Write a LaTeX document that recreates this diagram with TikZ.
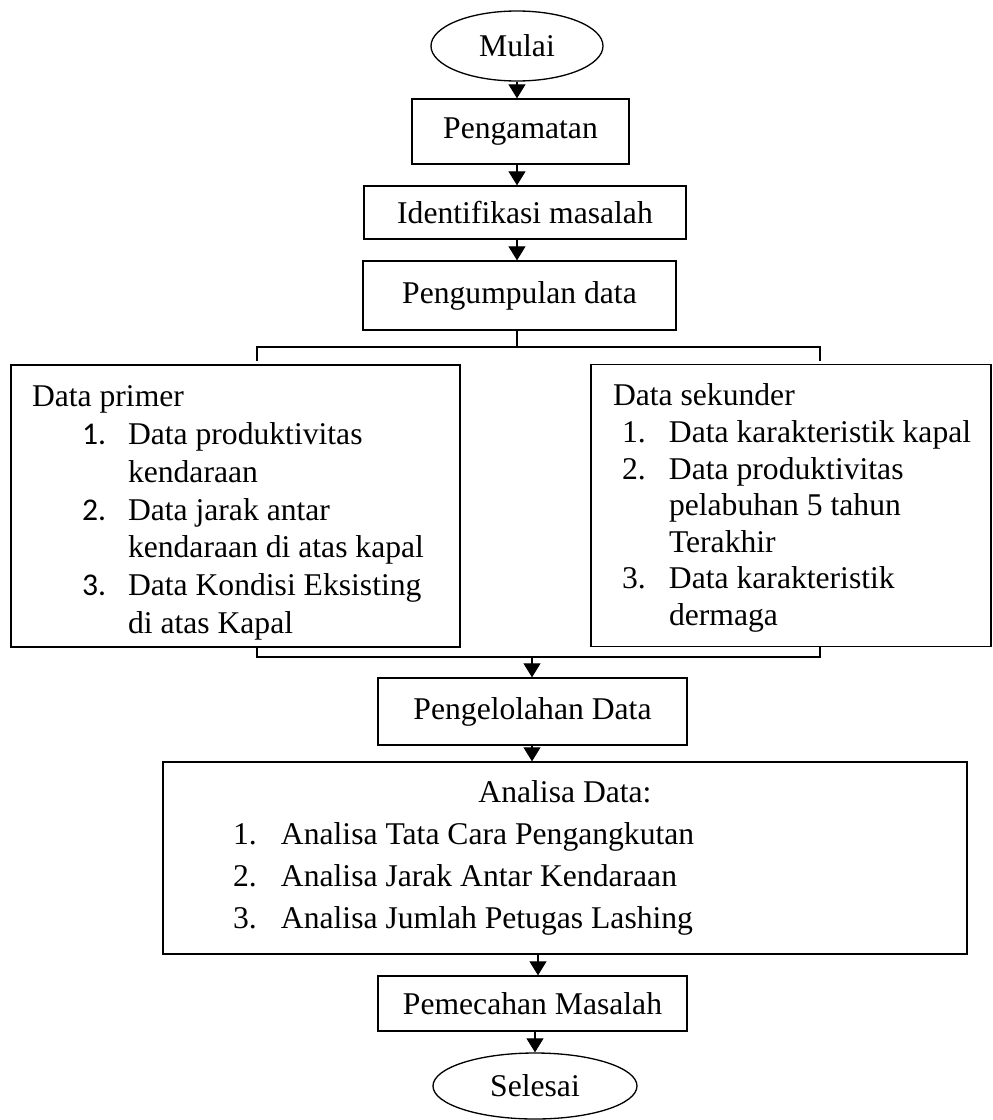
\documentclass[tikz,border=0pt]{standalone}
\usepackage{fontspec}
\setmainfont{Liberation Serif}
\newfontfamily\calibri{Carlito}
\usepackage{tikz}
\usetikzlibrary{positioning,shapes.geometric,arrows.meta,calc}

\begin{document}
\begin{tikzpicture}[
    box/.style={rectangle, draw, line width=0.75pt, inner sep=0pt, align=center, font=\fontsize{18}{21.6}\selectfont},
    terminal/.style={ellipse, draw, line width=0.75pt, inner sep=0pt, font=\fontsize{18}{21.6}\selectfont},
    listbox/.style={rectangle, draw, line width=0.75pt, inner xsep=0.2cm, inner ysep=0pt, align=flush left},
    line/.style={line width=0.6pt},
    arr/.style={line width=0.6pt, -{Triangle[length=0.28cm, width=0.34cm]}}
]
\useasboundingbox (0,0) rectangle (19.86,-22.4);

% Start and first steps
\node[terminal, minimum width=3.44cm, minimum height=1.4cm] (mulai) at (10.34, -0.92) {Mulai};
\node[box, minimum width=4.34cm, minimum height=1.3cm] (pengamatan) at (10.41, -2.63) {Pengamatan};
\node[box, minimum width=6.44cm, minimum height=1.06cm] (identifikasi) at (10.5, -4.25) {Identifikasi masalah};
\node[box, minimum width=6.26cm, minimum height=1.38cm] (pengumpulan) at (10.39, -5.91) {Pengumpulan data};

% Data sources - two boxes side by side
\node[listbox, minimum width=8.98cm, minimum height=5.64cm, text width=8.58cm, font=\fontsize{18}{21.5}\selectfont] (primer) at (4.71, -10.12) {%
    \rule{0pt}{0.7cm}\hspace*{0.22cm}Data primer\\
    \hspace*{1.22cm}\makebox[0.92cm][l]{\calibri 1.}Data produktivitas\\
    \hspace*{2.14cm}kendaraan\\
    \hspace*{1.22cm}\makebox[0.92cm][l]{\calibri 2.}Data jarak antar\\
    \hspace*{2.14cm}kendaraan di atas kapal\\
    \hspace*{1.22cm}\makebox[0.92cm][l]{\calibri 3.}Data Kondisi Eksisting\\
    \hspace*{2.14cm}di atas Kapal};
\node[listbox, minimum width=8.0cm, minimum height=5.64cm, text width=7.6cm, font=\fontsize{18}{20.8}\selectfont] (sekunder) at (15.82, -10.11) {%
    \rule{0pt}{0.54cm}\hspace*{0.24cm}Data sekunder\\
    \hspace*{0.42cm}\makebox[0.94cm][l]{1.}Data karakteristik kapal\\
    \hspace*{0.42cm}\makebox[0.94cm][l]{2.}Data produktivitas\\
    \hspace*{1.36cm}pelabuhan 5 tahun\\
    \hspace*{1.36cm}Terakhir\\
    \hspace*{0.42cm}\makebox[0.94cm][l]{3.}Data karakteristik\\
    \hspace*{1.36cm}dermaga};

% Processing and analysis
\node[box, minimum width=6.18cm, minimum height=1.34cm] (pengelolahan) at (10.65, -14.23) {Pengelolahan Data};
\node[listbox, minimum width=16.08cm, minimum height=3.84cm, text width=15.68cm, font=\fontsize{18}{23.9}\selectfont] (analisa) at (11.3, -17.16) {%
    \makebox[\linewidth]{Analisa Data:}\\
    \hspace*{1.2cm}\makebox[0.96cm][l]{1.}Analisa Tata Cara Pengangkutan\\
    \hspace*{1.2cm}\makebox[0.96cm][l]{2.}Analisa Jarak Antar Kendaraan\\
    \hspace*{1.2cm}\makebox[0.96cm][l]{3.}Analisa Jumlah Petugas Lashing};
\node[box, minimum width=6.18cm, minimum height=1.1cm] (pemecahan) at (10.65, -20.07) {Pemecahan Masalah};
\node[terminal, minimum width=4.08cm, minimum height=1.32cm] (selesai) at (10.7, -21.72) {Selesai};

% Split and merge points
\coordinate (split) at (10.34, -6.94);
\coordinate (tl) at (5.14, -6.94);
\coordinate (tr) at (16.4, -6.94);
\coordinate (tld) at (5.14, -7.22);
\coordinate (trd) at (16.4, -7.22);
\coordinate (bl) at (5.14, -13.14);
\coordinate (br) at (16.4, -13.14);
\coordinate (merge) at (10.64, -13.14);

% Connections
\draw[arr] (mulai.south) -- (mulai.south |- pengamatan.north);
\draw[arr] (pengamatan.south -| mulai.south) -- (identifikasi.north -| mulai.south);
\draw[arr] (identifikasi.south -| mulai.south) -- (pengumpulan.north -| mulai.south);
\draw[line] (pengumpulan.south -| split) -- (split);
\draw[line] (tld) -- (tl) -- (tr) -- (trd);
\draw[line] (primer.south -| bl) -- (bl) -- (br) -- (sekunder.south -| br);
\draw[arr] (merge) -- (merge |- pengelolahan.north);
\draw[arr] (pengelolahan.south -| merge) -- (analisa.north -| merge);
\draw[arr] ([xshift=0.11cm]analisa.south -| pemecahan.north) -- ([xshift=0.11cm]pemecahan.north);
\draw[arr] (pemecahan.south -| selesai.north) -- (selesai.north);

\end{tikzpicture}
\end{document}
